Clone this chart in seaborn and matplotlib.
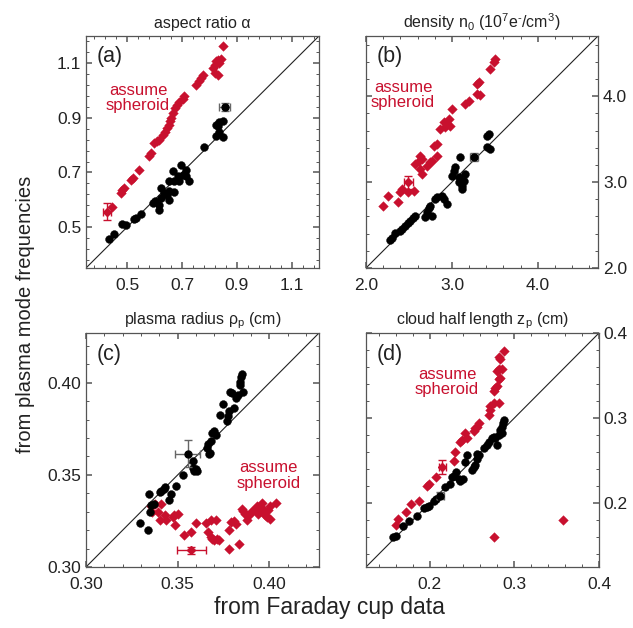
import numpy as np
import pandas as pd
import matplotlib
matplotlib.use("Agg")
import matplotlib.pyplot as plt
from matplotlib.ticker import AutoMinorLocator, FixedLocator
import seaborn as sns

# ---------------- data ----------------
# (a) aspect ratio
a_blk_x = [0.434, 0.453, 0.483, 0.495, 0.526, 0.534, 0.550, 0.595, 0.603, 0.617, 0.617, 0.623,
           0.623, 0.636, 0.644, 0.654, 0.654, 0.652, 0.672, 0.672, 0.666, 0.685, 0.691, 0.697,
           0.703, 0.713, 0.715, 0.727, 0.782, 0.825, 0.837, 0.825, 0.835, 0.849, 0.831, 0.849]
a_blk_y = [0.457, 0.476, 0.511, 0.509, 0.531, 0.535, 0.549, 0.588, 0.594, 0.582, 0.563, 0.606,
           0.643, 0.625, 0.618, 0.600, 0.631, 0.667, 0.628, 0.667, 0.704, 0.686, 0.667, 0.728,
           0.692, 0.710, 0.686, 0.670, 0.795, 0.832, 0.850, 0.875, 0.885, 0.890, 0.869, 0.830]
a_red_x = [0.446, 0.477, 0.483, 0.489, 0.514, 0.520, 0.542, 0.581, 0.587, 0.599, 0.608, 0.615,
           0.630, 0.639, 0.644, 0.652, 0.656, 0.660, 0.669, 0.676, 0.681, 0.691, 0.703, 0.709,
           0.752, 0.764, 0.770, 0.776, 0.813, 0.819, 0.825, 0.831, 0.837, 0.843, 0.822, 0.831, 0.849]
a_red_y = [0.572, 0.625, 0.637, 0.643, 0.673, 0.679, 0.710, 0.759, 0.771, 0.808, 0.814, 0.820,
           0.838, 0.850, 0.863, 0.875, 0.887, 0.899, 0.918, 0.936, 0.948, 0.958, 0.970, 0.979,
           1.021, 1.034, 1.046, 1.058, 1.082, 1.095, 1.107, 1.113, 1.101, 1.117, 1.064, 1.058, 1.162]
a_err_blk = (0.857, 0.940, 0.020, 0.015)
a_err_red = (0.428, 0.557, 0.015, 0.030)

# (b) density
b_blk_x = [2.280, 2.300, 2.339, 2.397, 2.416, 2.455, 2.494, 2.514, 2.545, 2.572, 2.689, 2.708,
           2.728, 2.747, 2.767, 2.805, 2.825, 2.883, 2.903, 2.942, 3.000, 3.019, 3.039, 3.078,
           3.078, 3.117, 3.117, 3.136, 3.156, 3.097, 3.409, 3.447, 3.409, 3.428]
b_blk_y = [2.327, 2.354, 2.405, 2.432, 2.451, 2.490, 2.521, 2.549, 2.580, 2.607, 2.588, 2.646,
           2.704, 2.724, 2.607, 2.802, 2.821, 2.840, 2.802, 2.743, 3.074, 3.132, 3.171, 3.054,
           2.996, 2.957, 2.918, 3.016, 3.093, 3.288, 3.405, 3.385, 3.541, 3.560]
b_red_x = [2.202, 2.261, 2.377, 2.397, 2.416, 2.494, 2.553, 2.572, 2.611, 2.630, 2.650, 2.630,
           2.650, 2.708, 2.747, 2.767, 2.825, 2.786, 2.825, 2.864, 2.903, 2.922, 2.942, 2.961,
           2.981, 3.000, 3.156, 3.195, 3.292, 3.331, 3.292, 3.311, 3.447, 3.486, 3.506]
b_red_y = [2.724, 2.840, 2.763, 2.879, 2.918, 2.879, 2.899, 3.210, 3.249, 3.307, 3.268, 3.152,
           3.093, 3.191, 3.230, 3.249, 3.307, 3.424, 3.444, 3.619, 3.696, 3.638, 3.677, 3.735,
           3.658, 3.852, 3.911, 3.949, 4.027, 4.008, 4.144, 4.163, 4.319, 4.397, 4.436]
b_err_blk = (3.253, 3.288, 0.045, 0.045)
b_err_red = (2.494, 2.996, 0.050, 0.080)

# (c) plasma radius
c_blk_x = [0.3294, 0.3339, 0.3348, 0.3342, 0.3357, 0.3371, 0.3401, 0.3410, 0.3425, 0.3432,
           0.3455, 0.3464, 0.3491, 0.3527, 0.3581, 0.3581, 0.3590, 0.3599, 0.3604, 0.3661,
           0.3665, 0.3670, 0.3676, 0.3679, 0.3688, 0.3697, 0.3711, 0.3729, 0.3747, 0.3769,
           0.3772, 0.3778, 0.3805, 0.3787, 0.3796, 0.3819, 0.3826, 0.3837, 0.3841, 0.3849,
           0.3858, 0.3844]
c_blk_y = [0.3238, 0.3203, 0.3297, 0.3396, 0.3339, 0.3342, 0.3405, 0.3410, 0.3423, 0.3432,
           0.3364, 0.3396, 0.3441, 0.3500, 0.3575, 0.3539, 0.3522, 0.3530, 0.3522, 0.3647,
           0.3665, 0.3611, 0.3620, 0.3683, 0.3728, 0.3737, 0.3719, 0.3826, 0.3884, 0.3790,
           0.3817, 0.3844, 0.3862, 0.3952, 0.3943, 0.3916, 0.3934, 0.3987, 0.4005, 0.4050,
           0.3952, 0.4032]
c_red_x = [0.3353, 0.3360, 0.3378, 0.3392, 0.3401, 0.3410, 0.3428, 0.3437, 0.3473, 0.3482,
           0.3486, 0.3500, 0.3536, 0.3572, 0.3599, 0.3652, 0.3667, 0.3679, 0.3683, 0.3688,
           0.3697, 0.3706, 0.3715, 0.3724, 0.3778, 0.3778, 0.3790, 0.3805, 0.3819, 0.3832,
           0.3849, 0.3858, 0.3867, 0.3880, 0.3891, 0.3903, 0.3921, 0.3930, 0.3939, 0.3952,
           0.3962, 0.3966, 0.3975, 0.3984, 0.3993, 0.4002, 0.4005, 0.4038]
c_red_y = [0.3333, 0.3297, 0.3342, 0.3297, 0.3256, 0.3342, 0.3280, 0.3253, 0.3271, 0.3280,
           0.3226, 0.3289, 0.3172, 0.3190, 0.3238, 0.3238, 0.3190, 0.3163, 0.3256, 0.3154,
           0.3145, 0.3253, 0.3154, 0.3145, 0.3199, 0.3100, 0.3244, 0.3249, 0.3235, 0.3127,
           0.3315, 0.3306, 0.3289, 0.3253, 0.3280, 0.3303, 0.3315, 0.3333, 0.3289, 0.3306,
           0.3346, 0.3315, 0.3280, 0.3271, 0.3310, 0.3262, 0.3333, 0.3346]
c_err_blk = (0.3554, 0.3615, 0.0068, 0.0072)
c_err_red = (0.3575, 0.3091, 0.0081, 0.0020)

# (d) cloud half length
d_blk_x = [0.1573, 0.1600, 0.1690, 0.1757, 0.1847, 0.1933, 0.1973, 0.1992, 0.2051, 0.2082,
           0.2188, 0.2239, 0.2267, 0.2294, 0.2318, 0.2345, 0.2365, 0.2396, 0.2424, 0.2443,
           0.2502, 0.2522, 0.2541, 0.2561, 0.2580, 0.2561, 0.2639, 0.2678, 0.2698, 0.2737,
           0.2757, 0.2776, 0.2796, 0.2816, 0.2835, 0.2855, 0.2867, 0.2875, 0.2855]
d_blk_y = [0.1603, 0.1619, 0.1730, 0.1790, 0.1849, 0.1948, 0.1960, 0.1968, 0.2028, 0.2048,
           0.2187, 0.2226, 0.2306, 0.2325, 0.2365, 0.2286, 0.2266, 0.2286, 0.2484, 0.2563,
           0.2385, 0.2425, 0.2444, 0.2524, 0.2563, 0.2583, 0.2643, 0.2683, 0.2722, 0.2762,
           0.2782, 0.2762, 0.2683, 0.2802, 0.2861, 0.2901, 0.2940, 0.2980, 0.2821]
d_red_x = [0.1600, 0.1627, 0.1718, 0.1776, 0.1875, 0.1973, 0.1992, 0.2082, 0.2294, 0.2306,
           0.2365, 0.2384, 0.2424, 0.2443, 0.2522, 0.2541, 0.2561, 0.2580, 0.2698, 0.2710,
           0.2718, 0.2757, 0.2816, 0.2757, 0.2776, 0.2796, 0.2816, 0.2835, 0.2796, 0.2816,
           0.2855, 0.2835, 0.2816, 0.2875, 0.2765, 0.3580]
d_red_y = [0.1738, 0.1817, 0.1897, 0.1988, 0.2028, 0.2198, 0.2226, 0.2306, 0.2492, 0.2603,
           0.2714, 0.2742, 0.2821, 0.2770, 0.2849, 0.2881, 0.2901, 0.2940, 0.3040, 0.3099,
           0.3139, 0.3179, 0.3179, 0.3317, 0.3357, 0.3377, 0.3456, 0.3476, 0.3556, 0.3575,
           0.3575, 0.3694, 0.3714, 0.3794, 0.1603, 0.1802]
d_err_blk = (0.2129, 0.2087, 0.004, 0.004)
d_err_red = (0.2149, 0.2425, 0.004, 0.008)

titles = ["aspect ratio \u03b1",
          "density n$_0$ (10$^7$e$^{\\text{-}}$/cm$^3$)",
          "plasma radius \u03c1$_{\\mathregular{p}}$ (cm)",
          "cloud half length z$_{\\mathregular{p}}$ (cm)"]
panel_labels = ["(a)", "(b)", "(c)", "(d)"]
limits = [(0.35, 1.2), (2.0, 4.7), (0.30, 0.427), (0.125, 0.40)]
ticks = [[0.5, 0.7, 0.9, 1.1], [2.0, 3.0, 4.0], [0.30, 0.35, 0.40], [0.2, 0.3, 0.4]]
tick_labels = [["0.5", "0.7", "0.9", "1.1"], ["2.0", "3.0", "4.0"],
               ["0.30", "0.35", "0.40"], ["0.2", "0.3", "0.4"]]
spheroid_pos = [(0.223, 0.733), (0.16, 0.745), (0.785, 0.39), (0.348, 0.79)]

# ---------------- style ----------------
sns.set_style("ticks")
plt.rcParams['font.family'] = ['Liberation Sans', 'DejaVu Sans']
plt.rcParams['mathtext.fontset'] = 'custom'
plt.rcParams['mathtext.rm'] = 'Liberation Sans'
plt.rcParams['mathtext.it'] = 'Liberation Sans'

RED = "#c8102e"
FRAME = "#555555"

fig = plt.figure(figsize=(6.33, 6.28), dpi=100)
W, H = 633, 628
boxes = [(86, 36, 319, 268), (366, 36, 598, 268), (86, 333, 319, 567), (366, 333, 599, 567)]

datasets = [
    (a_blk_x, a_blk_y, a_red_x, a_red_y, a_err_blk, a_err_red),
    (b_blk_x, b_blk_y, b_red_x, b_red_y, b_err_blk, b_err_red),
    (c_blk_x, c_blk_y, c_red_x, c_red_y, c_err_blk, c_err_red),
    (d_blk_x, d_blk_y, d_red_x, d_red_y, d_err_blk, d_err_red),
]

for i, (l, t, r, b) in enumerate(boxes):
    ax = fig.add_axes([l / W, 1 - b / H, (r - l) / W, (b - t) / H])
    bx, by, rx, ry, eb, er = datasets[i]
    lo, hi = limits[i]
    ax.plot([lo, hi], [lo, hi], color="#222222", lw=0.8, zorder=1)
    dfb = pd.DataFrame({"x": bx, "y": by})
    dfr = pd.DataFrame({"x": rx, "y": ry})
    sns.scatterplot(data=dfr, x="x", y="y", marker="D", s=24, color=RED,
                    edgecolor=RED, linewidth=0.3, ax=ax, zorder=3)
    sns.scatterplot(data=dfb, x="x", y="y", marker="o", s=32, color="black",
                    edgecolor="black", linewidth=0.3, ax=ax, zorder=4)
    ax.errorbar(eb[0], eb[1], xerr=eb[2], yerr=eb[3], fmt="o", ms=5, color="black",
                ecolor="#666666", elinewidth=1, capsize=3, zorder=5)
    ax.errorbar(er[0], er[1], xerr=er[2], yerr=er[3], fmt="D", ms=4.5, color=RED,
                ecolor=RED, elinewidth=1, capsize=3, zorder=5)
    ax.set_xlim(lo, hi)
    ax.set_ylim(lo, hi)
    ax.set_xlabel("")
    ax.set_ylabel("")
    ax.xaxis.set_major_locator(FixedLocator(ticks[i]))
    ax.yaxis.set_major_locator(FixedLocator(ticks[i]))
    ax.set_xticklabels(tick_labels[i])
    ax.set_yticklabels(tick_labels[i])
    ax.xaxis.set_minor_locator(AutoMinorLocator(5))
    ax.yaxis.set_minor_locator(AutoMinorLocator(5))
    right = i in (1, 3)
    ax.tick_params(which="both", direction="in", top=True, right=True, bottom=True, left=True,
                   color=FRAME, labelsize=12.5, labelcolor="#222222",
                   labelleft=not right, labelright=right)
    ax.tick_params(which="major", length=4, width=1.1)
    ax.tick_params(which="minor", length=2.5, width=0.7)
    ax.tick_params(axis="x", pad=7)
    for s in ax.spines.values():
        s.set_color(FRAME)
        s.set_linewidth(0.9)
    ax.set_title(titles[i], fontsize=11.5, color="#222222", pad=6)
    ax.text(0.045, 0.955, panel_labels[i], transform=ax.transAxes, fontsize=15.5,
            ha="left", va="top", color="#222222")
    sx, sy = spheroid_pos[i]
    ax.text(sx, sy, "assume\nspheroid", transform=ax.transAxes, fontsize=12,
            ha="center", va="center", color=RED, linespacing=1.05)

fig.text(0.04, 0.5, "from plasma mode frequencies", rotation=90, ha="center",
         va="center", fontsize=14.5, color="#222222")
fig.text(0.52, 0.032, "from Faraday cup data", ha="center", va="center",
         fontsize=16.5, color="#222222")

fig.savefig("out.png", dpi=100)
